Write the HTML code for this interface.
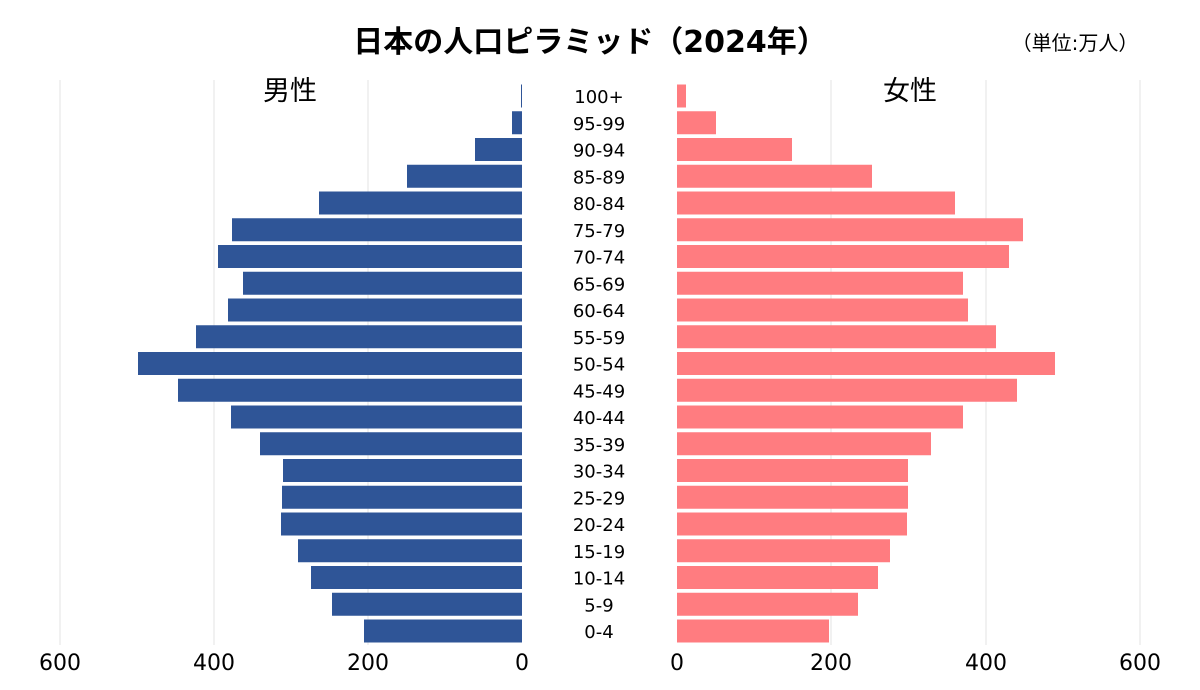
<!DOCTYPE html>
<html><head><meta charset="utf-8"><style>body{margin:0;background:#fff}svg{display:block}</style></head><body>
<svg width="1200" height="690" xmlns="http://www.w3.org/2000/svg" font-family="'DejaVu Sans','Noto Sans CJK JP',sans-serif">
<rect width="1200" height="690" fill="#fff"/>
<g stroke="#e3e3e3" stroke-width="1">
<line x1="60" y1="80" x2="60" y2="645"/><line x1="214" y1="80" x2="214" y2="645"/><line x1="368" y1="80" x2="368" y2="645"/>
<line x1="831" y1="80" x2="831" y2="645"/><line x1="986" y1="80" x2="986" y2="645"/><line x1="1140" y1="80" x2="1140" y2="645"/>
</g>
<text x="590" y="52" font-size="30" font-weight="bold" text-anchor="middle" fill="#000">日本の人口ピラミッド（2024年）</text>
<text x="1075" y="50" font-size="20" text-anchor="middle" fill="#000">（単位:万人）</text>
<text x="290" y="100" font-size="27" text-anchor="middle" fill="#000">男性</text>
<text x="910" y="100" font-size="27" text-anchor="middle" fill="#000">女性</text>
<g fill="#2f5597">
<rect x="521" y="84.5" width="1" height="23"/>
<rect x="512" y="111.25" width="10" height="23"/>
<rect x="475" y="138" width="47" height="23"/>
<rect x="407" y="164.75" width="115" height="23"/>
<rect x="319" y="191.5" width="203" height="23"/>
<rect x="232" y="218.25" width="290" height="23"/>
<rect x="218" y="245" width="304" height="23"/>
<rect x="243" y="271.75" width="279" height="23"/>
<rect x="228" y="298.5" width="294" height="23"/>
<rect x="196" y="325.25" width="326" height="23"/>
<rect x="138" y="352" width="384" height="23"/>
<rect x="178" y="378.75" width="344" height="23"/>
<rect x="231" y="405.5" width="291" height="23"/>
<rect x="260" y="432.25" width="262" height="23"/>
<rect x="283" y="459" width="239" height="23"/>
<rect x="282" y="485.75" width="240" height="23"/>
<rect x="281" y="512.5" width="241" height="23"/>
<rect x="298" y="539.25" width="224" height="23"/>
<rect x="311" y="566" width="211" height="23"/>
<rect x="332" y="592.75" width="190" height="23"/>
<rect x="364" y="619.5" width="158" height="23"/>
</g>
<g fill="#ff7c80">
<rect x="677" y="84.5" width="9" height="23"/>
<rect x="677" y="111.25" width="39" height="23"/>
<rect x="677" y="138" width="115" height="23"/>
<rect x="677" y="164.75" width="195" height="23"/>
<rect x="677" y="191.5" width="278" height="23"/>
<rect x="677" y="218.25" width="346" height="23"/>
<rect x="677" y="245" width="332" height="23"/>
<rect x="677" y="271.75" width="286" height="23"/>
<rect x="677" y="298.5" width="291" height="23"/>
<rect x="677" y="325.25" width="319" height="23"/>
<rect x="677" y="352" width="378" height="23"/>
<rect x="677" y="378.75" width="340" height="23"/>
<rect x="677" y="405.5" width="286" height="23"/>
<rect x="677" y="432.25" width="254" height="23"/>
<rect x="677" y="459" width="231" height="23"/>
<rect x="677" y="485.75" width="231" height="23"/>
<rect x="677" y="512.5" width="230" height="23"/>
<rect x="677" y="539.25" width="213" height="23"/>
<rect x="677" y="566" width="201" height="23"/>
<rect x="677" y="592.75" width="181" height="23"/>
<rect x="677" y="619.5" width="152" height="23"/>
</g>
<g font-size="18" text-anchor="middle" fill="#000">
<text x="599" y="103">100+</text>
<text x="599" y="129.75">95-99</text>
<text x="599" y="156.5">90-94</text>
<text x="599" y="183.25">85-89</text>
<text x="599" y="210">80-84</text>
<text x="599" y="236.75">75-79</text>
<text x="599" y="263.5">70-74</text>
<text x="599" y="290.25">65-69</text>
<text x="599" y="317">60-64</text>
<text x="599" y="343.75">55-59</text>
<text x="599" y="370.5">50-54</text>
<text x="599" y="397.25">45-49</text>
<text x="599" y="424">40-44</text>
<text x="599" y="450.75">35-39</text>
<text x="599" y="477.5">30-34</text>
<text x="599" y="504.25">25-29</text>
<text x="599" y="531">20-24</text>
<text x="599" y="557.75">15-19</text>
<text x="599" y="584.5">10-14</text>
<text x="599" y="611.25">5-9</text>
<text x="599" y="638">0-4</text>
</g>
<g font-size="22" text-anchor="middle" fill="#000">
<text x="60" y="670">600</text><text x="214" y="670">400</text><text x="368" y="670">200</text><text x="522" y="670">0</text>
<text x="677" y="670">0</text><text x="831" y="670">200</text><text x="986" y="670">400</text><text x="1140" y="670">600</text>
</g>
</svg>
</body></html>
